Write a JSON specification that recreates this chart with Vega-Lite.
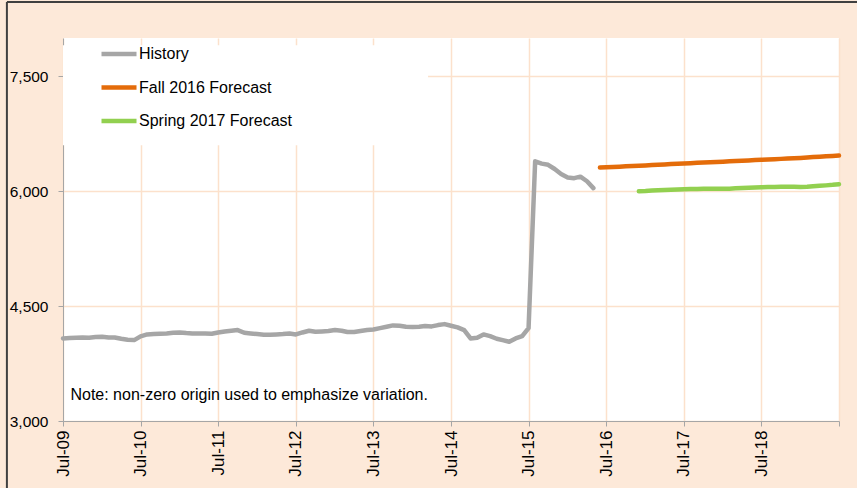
{
  "$schema": "https://vega.github.io/schema/vega-lite/v6.json",
  "width": 776,
  "height": 383,
  "autosize": {"type": "none"},
  "padding": {"left": 63, "top": 38, "right": 18, "bottom": 67},
  "background": "#FDE9D9",
  "config": {
    "font": "Liberation Sans",
    "view": {"fill": "white", "stroke": null}
  },
  "datasets": {
    "series": [
      {"date": "2009-07-01", "value": 4078, "series": "History"},
      {"date": "2009-08-01", "value": 4083, "series": "History"},
      {"date": "2009-09-01", "value": 4087, "series": "History"},
      {"date": "2009-10-01", "value": 4091, "series": "History"},
      {"date": "2009-11-01", "value": 4087, "series": "History"},
      {"date": "2009-12-01", "value": 4096, "series": "History"},
      {"date": "2010-01-01", "value": 4100, "series": "History"},
      {"date": "2010-02-01", "value": 4091, "series": "History"},
      {"date": "2010-03-01", "value": 4091, "series": "History"},
      {"date": "2010-04-01", "value": 4074, "series": "History"},
      {"date": "2010-05-01", "value": 4061, "series": "History"},
      {"date": "2010-06-01", "value": 4056, "series": "History"},
      {"date": "2010-07-01", "value": 4105, "series": "History"},
      {"date": "2010-08-01", "value": 4130, "series": "History"},
      {"date": "2010-09-01", "value": 4135, "series": "History"},
      {"date": "2010-10-01", "value": 4139, "series": "History"},
      {"date": "2010-11-01", "value": 4143, "series": "History"},
      {"date": "2010-12-01", "value": 4152, "series": "History"},
      {"date": "2011-01-01", "value": 4156, "series": "History"},
      {"date": "2011-02-01", "value": 4148, "series": "History"},
      {"date": "2011-03-01", "value": 4143, "series": "History"},
      {"date": "2011-04-01", "value": 4143, "series": "History"},
      {"date": "2011-05-01", "value": 4143, "series": "History"},
      {"date": "2011-06-01", "value": 4139, "series": "History"},
      {"date": "2011-07-01", "value": 4156, "series": "History"},
      {"date": "2011-08-01", "value": 4169, "series": "History"},
      {"date": "2011-09-01", "value": 4178, "series": "History"},
      {"date": "2011-10-01", "value": 4187, "series": "History"},
      {"date": "2011-11-01", "value": 4152, "series": "History"},
      {"date": "2011-12-01", "value": 4143, "series": "History"},
      {"date": "2012-01-01", "value": 4135, "series": "History"},
      {"date": "2012-02-01", "value": 4126, "series": "History"},
      {"date": "2012-03-01", "value": 4126, "series": "History"},
      {"date": "2012-04-01", "value": 4130, "series": "History"},
      {"date": "2012-05-01", "value": 4135, "series": "History"},
      {"date": "2012-06-01", "value": 4143, "series": "History"},
      {"date": "2012-07-01", "value": 4130, "series": "History"},
      {"date": "2012-08-01", "value": 4156, "series": "History"},
      {"date": "2012-09-01", "value": 4178, "series": "History"},
      {"date": "2012-10-01", "value": 4165, "series": "History"},
      {"date": "2012-11-01", "value": 4169, "series": "History"},
      {"date": "2012-12-01", "value": 4174, "series": "History"},
      {"date": "2013-01-01", "value": 4187, "series": "History"},
      {"date": "2013-02-01", "value": 4178, "series": "History"},
      {"date": "2013-03-01", "value": 4161, "series": "History"},
      {"date": "2013-04-01", "value": 4161, "series": "History"},
      {"date": "2013-05-01", "value": 4174, "series": "History"},
      {"date": "2013-06-01", "value": 4187, "series": "History"},
      {"date": "2013-07-01", "value": 4195, "series": "History"},
      {"date": "2013-08-01", "value": 4213, "series": "History"},
      {"date": "2013-09-01", "value": 4230, "series": "History"},
      {"date": "2013-10-01", "value": 4248, "series": "History"},
      {"date": "2013-11-01", "value": 4243, "series": "History"},
      {"date": "2013-12-01", "value": 4230, "series": "History"},
      {"date": "2014-01-01", "value": 4226, "series": "History"},
      {"date": "2014-02-01", "value": 4230, "series": "History"},
      {"date": "2014-03-01", "value": 4239, "series": "History"},
      {"date": "2014-04-01", "value": 4235, "series": "History"},
      {"date": "2014-05-01", "value": 4252, "series": "History"},
      {"date": "2014-06-01", "value": 4265, "series": "History"},
      {"date": "2014-07-01", "value": 4243, "series": "History"},
      {"date": "2014-08-01", "value": 4222, "series": "History"},
      {"date": "2014-09-01", "value": 4187, "series": "History"},
      {"date": "2014-10-01", "value": 4078, "series": "History"},
      {"date": "2014-11-01", "value": 4087, "series": "History"},
      {"date": "2014-12-01", "value": 4130, "series": "History"},
      {"date": "2015-01-01", "value": 4108, "series": "History"},
      {"date": "2015-02-01", "value": 4074, "series": "History"},
      {"date": "2015-03-01", "value": 4056, "series": "History"},
      {"date": "2015-04-01", "value": 4035, "series": "History"},
      {"date": "2015-05-01", "value": 4078, "series": "History"},
      {"date": "2015-06-01", "value": 4108, "series": "History"},
      {"date": "2015-07-01", "value": 4213, "series": "History"},
      {"date": "2015-08-01", "value": 6390, "series": "History"},
      {"date": "2015-09-01", "value": 6360, "series": "History"},
      {"date": "2015-10-01", "value": 6345, "series": "History"},
      {"date": "2015-11-01", "value": 6290, "series": "History"},
      {"date": "2015-12-01", "value": 6225, "series": "History"},
      {"date": "2016-01-01", "value": 6180, "series": "History"},
      {"date": "2016-02-01", "value": 6170, "series": "History"},
      {"date": "2016-03-01", "value": 6190, "series": "History"},
      {"date": "2016-04-01", "value": 6130, "series": "History"},
      {"date": "2016-05-01", "value": 6040, "series": "History"},
      {"date": "2016-06-01", "value": 6308, "series": "Fall 2016 Forecast"},
      {"date": "2016-07-01", "value": 6312, "series": "Fall 2016 Forecast"},
      {"date": "2016-08-01", "value": 6316, "series": "Fall 2016 Forecast"},
      {"date": "2016-09-01", "value": 6320, "series": "Fall 2016 Forecast"},
      {"date": "2016-10-01", "value": 6325, "series": "Fall 2016 Forecast"},
      {"date": "2016-11-01", "value": 6329, "series": "Fall 2016 Forecast"},
      {"date": "2016-12-01", "value": 6333, "series": "Fall 2016 Forecast"},
      {"date": "2017-01-01", "value": 6337, "series": "Fall 2016 Forecast"},
      {"date": "2017-02-01", "value": 6341, "series": "Fall 2016 Forecast"},
      {"date": "2017-03-01", "value": 6345, "series": "Fall 2016 Forecast"},
      {"date": "2017-04-01", "value": 6350, "series": "Fall 2016 Forecast"},
      {"date": "2017-05-01", "value": 6354, "series": "Fall 2016 Forecast"},
      {"date": "2017-06-01", "value": 6358, "series": "Fall 2016 Forecast"},
      {"date": "2017-07-01", "value": 6362, "series": "Fall 2016 Forecast"},
      {"date": "2017-08-01", "value": 6366, "series": "Fall 2016 Forecast"},
      {"date": "2017-09-01", "value": 6370, "series": "Fall 2016 Forecast"},
      {"date": "2017-10-01", "value": 6374, "series": "Fall 2016 Forecast"},
      {"date": "2017-11-01", "value": 6378, "series": "Fall 2016 Forecast"},
      {"date": "2017-12-01", "value": 6382, "series": "Fall 2016 Forecast"},
      {"date": "2018-01-01", "value": 6386, "series": "Fall 2016 Forecast"},
      {"date": "2018-02-01", "value": 6390, "series": "Fall 2016 Forecast"},
      {"date": "2018-03-01", "value": 6394, "series": "Fall 2016 Forecast"},
      {"date": "2018-04-01", "value": 6398, "series": "Fall 2016 Forecast"},
      {"date": "2018-05-01", "value": 6402, "series": "Fall 2016 Forecast"},
      {"date": "2018-06-01", "value": 6406, "series": "Fall 2016 Forecast"},
      {"date": "2018-07-01", "value": 6410, "series": "Fall 2016 Forecast"},
      {"date": "2018-08-01", "value": 6414, "series": "Fall 2016 Forecast"},
      {"date": "2018-09-01", "value": 6418, "series": "Fall 2016 Forecast"},
      {"date": "2018-10-01", "value": 6422, "series": "Fall 2016 Forecast"},
      {"date": "2018-11-01", "value": 6427, "series": "Fall 2016 Forecast"},
      {"date": "2018-12-01", "value": 6431, "series": "Fall 2016 Forecast"},
      {"date": "2019-01-01", "value": 6435, "series": "Fall 2016 Forecast"},
      {"date": "2019-02-01", "value": 6440, "series": "Fall 2016 Forecast"},
      {"date": "2019-03-01", "value": 6445, "series": "Fall 2016 Forecast"},
      {"date": "2019-04-01", "value": 6450, "series": "Fall 2016 Forecast"},
      {"date": "2019-05-01", "value": 6455, "series": "Fall 2016 Forecast"},
      {"date": "2019-06-01", "value": 6460, "series": "Fall 2016 Forecast"},
      {"date": "2019-07-01", "value": 6465, "series": "Fall 2016 Forecast"},
      {"date": "2016-12-01", "value": 6000, "series": "Spring 2017 Forecast"},
      {"date": "2017-01-01", "value": 6003, "series": "Spring 2017 Forecast"},
      {"date": "2017-02-01", "value": 6008, "series": "Spring 2017 Forecast"},
      {"date": "2017-03-01", "value": 6012, "series": "Spring 2017 Forecast"},
      {"date": "2017-04-01", "value": 6016, "series": "Spring 2017 Forecast"},
      {"date": "2017-05-01", "value": 6020, "series": "Spring 2017 Forecast"},
      {"date": "2017-06-01", "value": 6023, "series": "Spring 2017 Forecast"},
      {"date": "2017-07-01", "value": 6026, "series": "Spring 2017 Forecast"},
      {"date": "2017-08-01", "value": 6028, "series": "Spring 2017 Forecast"},
      {"date": "2017-09-01", "value": 6030, "series": "Spring 2017 Forecast"},
      {"date": "2017-10-01", "value": 6031, "series": "Spring 2017 Forecast"},
      {"date": "2017-11-01", "value": 6032, "series": "Spring 2017 Forecast"},
      {"date": "2017-12-01", "value": 6032, "series": "Spring 2017 Forecast"},
      {"date": "2018-01-01", "value": 6031, "series": "Spring 2017 Forecast"},
      {"date": "2018-02-01", "value": 6033, "series": "Spring 2017 Forecast"},
      {"date": "2018-03-01", "value": 6037, "series": "Spring 2017 Forecast"},
      {"date": "2018-04-01", "value": 6042, "series": "Spring 2017 Forecast"},
      {"date": "2018-05-01", "value": 6046, "series": "Spring 2017 Forecast"},
      {"date": "2018-06-01", "value": 6049, "series": "Spring 2017 Forecast"},
      {"date": "2018-07-01", "value": 6052, "series": "Spring 2017 Forecast"},
      {"date": "2018-08-01", "value": 6054, "series": "Spring 2017 Forecast"},
      {"date": "2018-09-01", "value": 6056, "series": "Spring 2017 Forecast"},
      {"date": "2018-10-01", "value": 6057, "series": "Spring 2017 Forecast"},
      {"date": "2018-11-01", "value": 6057, "series": "Spring 2017 Forecast"},
      {"date": "2018-12-01", "value": 6057, "series": "Spring 2017 Forecast"},
      {"date": "2019-01-01", "value": 6056, "series": "Spring 2017 Forecast"},
      {"date": "2019-02-01", "value": 6058, "series": "Spring 2017 Forecast"},
      {"date": "2019-03-01", "value": 6064, "series": "Spring 2017 Forecast"},
      {"date": "2019-04-01", "value": 6070, "series": "Spring 2017 Forecast"},
      {"date": "2019-05-01", "value": 6076, "series": "Spring 2017 Forecast"},
      {"date": "2019-06-01", "value": 6083, "series": "Spring 2017 Forecast"},
      {"date": "2019-07-01", "value": 6092, "series": "Spring 2017 Forecast"}
    ],
    "legendbox": [
      {"start": "2009-07-01", "end": "2014-03-15", "low": 6600, "high": 7904}
    ],
    "note": [
      {"date": "2009-08-05", "value": 3274, "text": "Note: non-zero origin used to emphasize variation."}
    ],
    "frame": [
      {"x1": "2008-10-10", "x2": "2008-10-10", "y1": 8470, "y2": 2000},
      {"x1": "2008-10-10", "x2": "2019-10-15", "y1": 8470, "y2": 8470}
    ]
  },
  "layer": [
    {
      "data": {"name": "legendbox"},
      "mark": {"type": "rect", "fill": "white", "stroke": null},
      "encoding": {
        "x": {"field": "start", "type": "temporal", "scale": {"type": "utc", "domain": [{"year": 2009, "month": 7, "date": 1, "utc": true}, {"year": 2019, "month": 7, "date": 1, "utc": true}], "nice": false},
          "axis": {
            "values": [
              {"year": 2009, "month": 7, "date": 1, "utc": true},
              {"year": 2010, "month": 7, "date": 1, "utc": true},
              {"year": 2011, "month": 7, "date": 1, "utc": true},
              {"year": 2012, "month": 7, "date": 1, "utc": true},
              {"year": 2013, "month": 7, "date": 1, "utc": true},
              {"year": 2014, "month": 7, "date": 1, "utc": true},
              {"year": 2015, "month": 7, "date": 1, "utc": true},
              {"year": 2016, "month": 7, "date": 1, "utc": true},
              {"year": 2017, "month": 7, "date": 1, "utc": true},
              {"year": 2018, "month": 7, "date": 1, "utc": true},
              {"year": 2019, "month": 7, "date": 1, "utc": true}
            ],
            "format": "%b-%y",
            "labelExpr": "utcyear(datum.value) == 2019 ? '' : datum.label",
            "title": null,
            "labelAngle": 270,
            "labelFontSize": 17,
            "labelColor": "#000000",
            "labelPadding": 4,
            "tickSize": 5,
            "tickColor": "#A6A6A6",
            "domainColor": "#A6A6A6",
            "grid": true,
            "gridColor": "#FCE1CC",
            "gridWidth": 1.5,
            "labelOverlap": false
          }
        },
        "x2": {"field": "end"},
        "y": {"field": "low", "type": "quantitative", "scale": {"domain": [3000, 8000], "nice": false, "zero": false},
          "axis": {
            "values": [3000, 4500, 6000, 7500],
            "format": ",.0f",
            "title": null,
            "labelFontSize": 15.5,
            "labelColor": "#000000",
            "labelPadding": 10,
            "tickSize": 5,
            "tickColor": "#A6A6A6",
            "domainColor": "#A6A6A6",
            "grid": true,
            "gridColor": "#FCE1CC",
            "gridWidth": 1.5
          }
        },
        "y2": {"field": "high"}
      }
    },
    {
      "data": {"name": "series"},
      "mark": {"type": "line", "strokeWidth": 4.5, "strokeCap": "round", "strokeJoin": "round"},
      "encoding": {
        "x": {"field": "date", "type": "temporal"},
        "y": {"field": "value", "type": "quantitative"},
        "color": {
          "field": "series",
          "type": "nominal",
          "scale": {"domain": ["History", "Fall 2016 Forecast", "Spring 2017 Forecast"], "range": ["#A6A6A6", "#E46C0A", "#92D050"]},
          "legend": {
            "title": null,
            "orient": "none",
            "legendX": 36,
            "legendY": -4,
            "symbolType": "stroke",
            "symbolSize": 1225,
            "symbolStrokeWidth": 4.5,
            "labelFontSize": 16,
            "labelColor": "#000000",
            "labelOffset": 0,
            "rowPadding": 4.5,
            "padding": 0
          }
        }
      }
    },
    {
      "data": {"name": "note"},
      "mark": {"type": "text", "align": "left", "baseline": "alphabetic", "fontSize": 16, "color": "#000000"},
      "encoding": {
        "x": {"field": "date", "type": "temporal"},
        "y": {"field": "value", "type": "quantitative"},
        "text": {"field": "text"}
      }
    },
    {
      "data": {"name": "frame"},
      "mark": {"type": "rule", "color": "#404040", "strokeWidth": 2},
      "encoding": {
        "x": {"field": "x1", "type": "temporal"},
        "x2": {"field": "x2"},
        "y": {"field": "y1", "type": "quantitative"},
        "y2": {"field": "y2"}
      }
    }
  ]
}
